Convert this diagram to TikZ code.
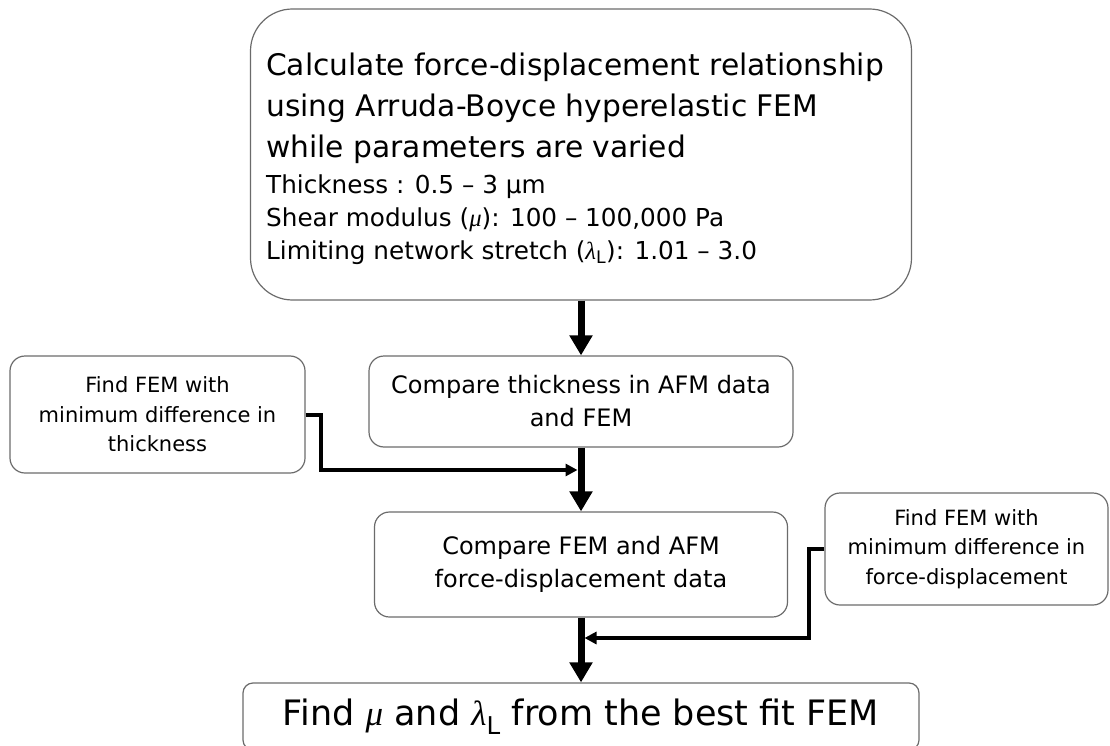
\documentclass[tikz,border=0pt]{standalone}
\usepackage{fontspec}
\setmainfont{DejaVu Sans}
\newfontfamily\grfont{Liberation Serif}
\newcommand{\grmu}{{\grfont\itshape μ}}
\newcommand{\grlam}{{\grfont\itshape λ}\textsubscript{L}}
\usetikzlibrary{arrows.meta}
\definecolor{boxgray}{gray}{0.42}
\begin{document}
\begin{tikzpicture}[x=1pt,y=-1pt,
  box/.style={draw=boxgray, line width=1.2pt, rounded corners=15pt, inner sep=0pt, align=center, text=black},
  mainarrow/.style={line width=7pt, -{Triangle[length=20pt,width=22pt]}},
  sidearrow/.style={line width=4pt, -{Triangle[length=12pt,width=12pt]}, shorten >=3.5pt},
  cmpfont/.style={font=\fontsize{24pt}{33pt}\selectfont},
  sidefont/.style={font=\fontsize{21pt}{29.5pt}\selectfont},
]
\useasboundingbox (0,0) rectangle (1110,746);
\clip (0,0) rectangle (1110,746);

% top box
\node[box, rounded corners=42pt, minimum width=661pt, minimum height=291pt] (top) at (581,154.5) {};
\node[anchor=north west, inner sep=0pt, text width=640pt, align=flush left] (toptext) at (266,53)
  {{\fontsize{29.7pt}{41pt}\selectfont Calculate force-displacement relationship\\using Arruda-Boyce hyperelastic FEM\\while parameters are varied\par}\vspace{3pt}%
   {\fontsize{24.7pt}{33pt}\selectfont Thickness : 0.5 – 3 μm\\Shear modulus (\grmu): 100 – 100,000 Pa\\Limiting network stretch (\grlam): 1.01 – 3.0\par}};

% middle boxes
\node[box, cmpfont, minimum width=424pt, minimum height=91pt] (cmp1) at (581,401.5)
  {Compare thickness in AFM data\\and FEM};
\node[box, cmpfont, minimum width=413pt, minimum height=105pt] (cmp2) at (581,564.5)
  {Compare FEM and AFM\\force-displacement data};

% side boxes
\node[box, sidefont, minimum width=295pt, minimum height=117pt] (fthick) at (157.5,414.5)
  {Find FEM with\\minimum difference in\\thickness};
\node[box, sidefont, minimum width=283pt, minimum height=112pt] (ffd) at (966.5,549)
  {Find FEM with\\minimum difference in\\force-displacement};

% bottom box
\node[box, rounded corners=10pt, minimum width=676pt, minimum height=67pt,
      font=\fontsize{35pt}{42pt}\selectfont] (final) at (581,716.5)
  {Find \grmu{} and \grlam{} from the best fit FEM};

% junctions on the main line
\coordinate (m1) at (581,470);
\coordinate (m2) at (581,638);

% main arrows
\draw[mainarrow] (top.south) -- (top.south |- cmp1.north);
\draw[mainarrow] (cmp1.south) -- (cmp1.south |- cmp2.north);
\draw[mainarrow] (cmp2.south) -- (cmp2.south |- final.north);

% side connectors
\draw[sidearrow] (fthick.east) -- ++(15,0) |- (m1);
\draw[sidearrow] (ffd.west) -- ++(-15,0) |- (m2);
\end{tikzpicture}
\end{document}
